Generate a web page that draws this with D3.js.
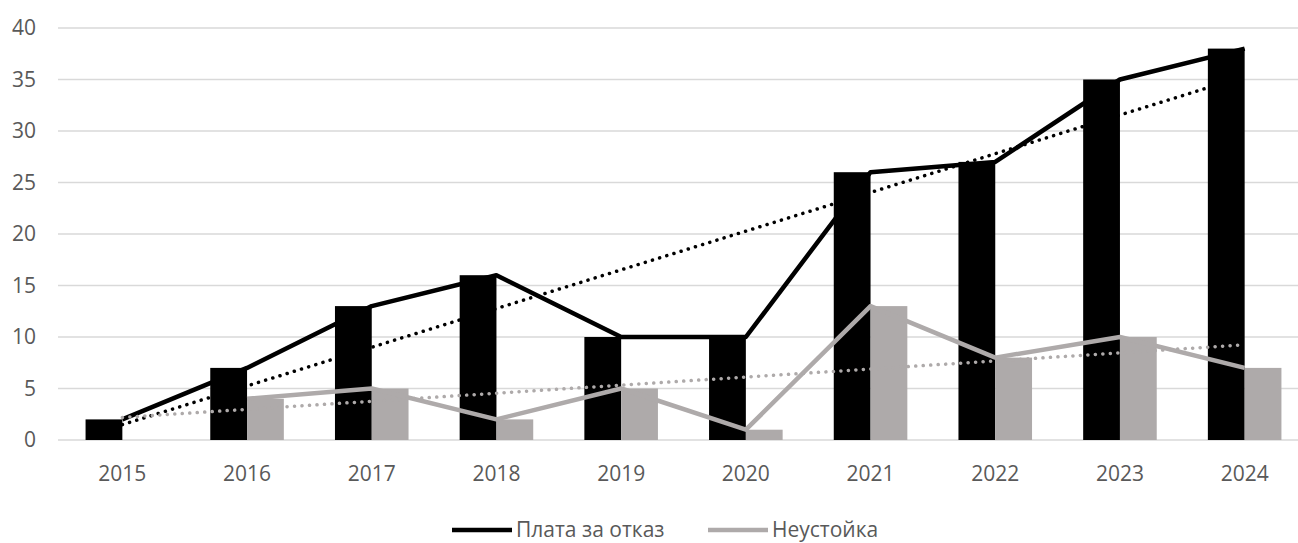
<!DOCTYPE html>
<html>
<head>
<meta charset="utf-8">
<script src="https://cdn.jsdelivr.net/npm/d3@7"></script>
<style>
  body { margin: 0; background: #fff; }
  svg { display: block; font-family: "Open Sans", sans-serif; }
</style>
</head>
<body>
<script>
const years = ['2015', '2016', '2017', '2018', '2019', '2020', '2021', '2022', '2023', '2024'];
const fee = [2, 7, 13, 16, 10, 10, 26, 27, 35, 38];        // Плата за отказ
const penalty = [null, 4, 5, 2, 5, 1, 13, 8, 10, 7];       // Неустойка
const yTicks = [0, 5, 10, 15, 20, 25, 30, 35, 40];
const seriesNames = ['Плата за отказ', 'Неустойка'];

const width = 1298;
const height = 543;
const black = '#000';
const grey = '#aeaaaa';

const svg = d3.select('body').append('svg')
  .attr('width', width)
  .attr('height', height);

const x = d3.scaleBand()
  .domain(years)
  .range([60, 1307])
  .paddingInner(0.41)
  .paddingOuter(0.205);

const x1 = d3.scaleBand()
  .domain([0, 1])
  .range([0, x.bandwidth()]);

const y = d3.scaleLinear()
  .domain([0, 40])
  .range([440, 28]);

// gridlines
svg.append('g')
  .selectAll('line')
  .data(yTicks)
  .join('line')
  .attr('x1', 58)
  .attr('x2', width)
  .attr('y1', d => y(d))
  .attr('y2', d => y(d))
  .attr('stroke', '#d9d9d9')
  .attr('stroke-width', 1.5);

// y labels
svg.append('g')
  .selectAll('text')
  .data(yTicks)
  .join('text')
  .attr('x', 36)
  .attr('y', d => y(d))
  .attr('dy', '0.35em')
  .attr('text-anchor', 'end')
  .attr('font-size', 21)
  .attr('fill', '#595959')
  .text(d => d);

// x labels
svg.append('g')
  .selectAll('text')
  .data(years)
  .join('text')
  .attr('x', d => x(d) + x.bandwidth() / 2)
  .attr('y', 481)
  .attr('text-anchor', 'middle')
  .attr('font-size', 21)
  .attr('fill', '#595959')
  .text(d => d);

// bars
const rows = years.map((yr, i) => ({ year: yr, vals: [fee[i], penalty[i]] }));
const colors = [black, grey];

svg.append('g')
  .selectAll('g')
  .data(rows)
  .join('g')
  .attr('transform', d => `translate(${x(d.year)},0)`)
  .selectAll('rect')
  .data(d => d.vals.map((v, k) => ({ k, v })).filter(e => e.v != null))
  .join('rect')
  .attr('x', d => x1(d.k))
  .attr('width', x1.bandwidth())
  .attr('y', d => y(d.v))
  .attr('height', d => y(0) - y(d.v))
  .attr('fill', d => colors[d.k]);

const cx = yr => x(yr) + x.bandwidth() / 2;

const line = d3.line()
  .defined(d => d.v != null)
  .x(d => cx(d.year))
  .y(d => y(d.v));

// linear trendline fitted on the non-empty points, drawn across all categories
function trend(vals) {
  const pts = vals.map((v, i) => [i, v]).filter(p => p[1] != null);
  const mx = d3.mean(pts, p => p[0]);
  const my = d3.mean(pts, p => p[1]);
  const b = d3.sum(pts, p => (p[0] - mx) * (p[1] - my)) / d3.sum(pts, p => (p[0] - mx) ** 2);
  const a = my - b * mx;
  return [0, vals.length - 1].map(i => ({ year: years[i], v: a + b * i }));
}

const series = [fee, penalty];

series.forEach((vals, k) => {
  svg.append('path')
    .datum(vals.map((v, i) => ({ year: years[i], v })))
    .attr('d', line)
    .attr('fill', 'none')
    .attr('stroke', colors[k])
    .attr('stroke-width', 4.5)
    .attr('stroke-linejoin', 'round');
});

series.forEach((vals, k) => {
  svg.append('path')
    .datum(trend(vals))
    .attr('d', line)
    .attr('fill', 'none')
    .attr('stroke', colors[k])
    .attr('stroke-width', 3.5)
    .attr('stroke-linecap', 'round')
    .attr('stroke-dasharray', '0.1 7.4');
});

// legend
const legend = svg.append('g')
  .selectAll('g')
  .data(seriesNames)
  .join('g')
  .attr('transform', (d, i) => `translate(${[452, 708][i]},530)`);

legend.append('line')
  .attr('x1', 0)
  .attr('x2', 60)
  .attr('stroke', (d, i) => colors[i])
  .attr('stroke-width', 4.5);

legend.append('text')
  .attr('x', 64)
  .attr('dy', '0.35em')
  .attr('font-size', 21)
  .attr('fill', '#595959')
  .text(d => d);
</script>
</body>
</html>
